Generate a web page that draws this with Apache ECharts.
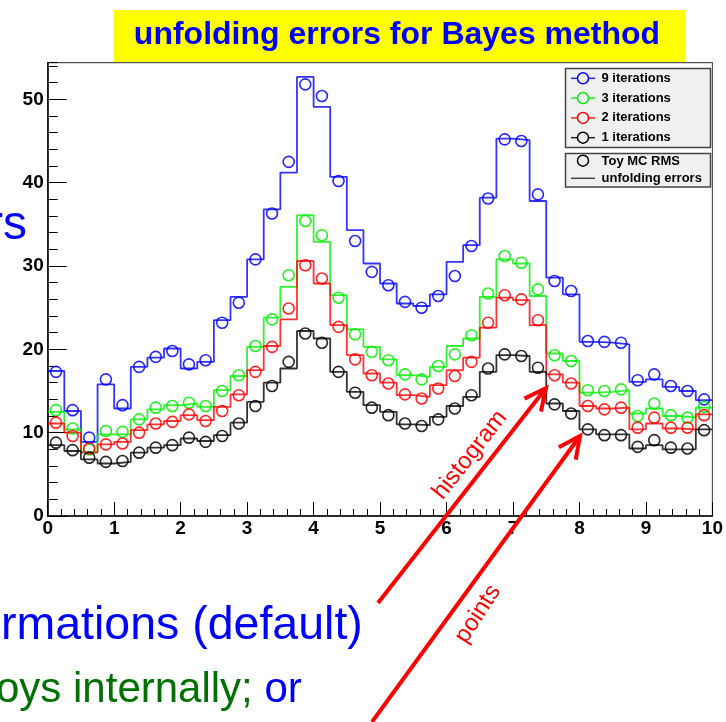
<!DOCTYPE html>
<html>
<head>
<meta charset="utf-8">
<title>unfolding errors for Bayes method</title>
<script src="https://cdn.jsdelivr.net/npm/echarts@6/dist/echarts.min.js"></script>
<style>
  html, body { margin: 0; padding: 0; background: #ffffff; }
  #chart { width: 726px; height: 722px; }
</style>
</head>
<body>
<div id="chart"></div>
<script>
// Histogram binning: 40 bins over [0, 10]
const xMin = 0;
const xMax = 10;
const nBins = 40;

const seriesNames = ['9 iterations', '3 iterations', '2 iterations', '1 iterations'];
const seriesColors = ['#0000ff', '#00ee00', '#ff0000', '#000000'];

// Unfolding errors (histogram contents), one array per iteration count
const errors9 = [17.4, 12.6, 8.9, 15.8, 12.9, 17.9, 19.0, 20.1, 17.7, 18.5,
                 23.5, 26.3, 30.8, 36.8, 41.2, 52.7, 49.1, 40.7, 34.3, 30.3,
                 27.9, 25.5, 25.2, 26.6, 30.5, 32.5, 38.2, 45.3, 45.1, 37.8,
                 28.6, 26.6, 20.9, 20.8, 20.6, 16.1, 16.4, 15.5, 15.0, 13.9];
const errors3 = [12.5, 10.4, 7.7, 9.8, 9.8, 11.6, 12.8, 13.3, 13.5, 13.1,
                 15.1, 16.8, 20.3, 23.8, 27.5, 36.1, 32.9, 26.5, 22.4, 20.3,
                 18.8, 16.9, 16.7, 17.9, 20.4, 21.3, 26.3, 30.8, 30.3, 26.4,
                 19.5, 18.6, 14.8, 14.9, 15.1, 12.3, 12.9, 12.0, 11.8, 13.0];
const errors2 = [11.1, 10.0, 7.6, 8.6, 8.9, 10.3, 11.0, 11.4, 12.1, 11.5,
                 13.1, 14.6, 17.5, 20.4, 23.6, 30.6, 27.9, 22.9, 19.3, 17.1,
                 16.0, 14.5, 14.3, 15.7, 17.5, 19.0, 22.6, 26.2, 25.9, 22.9,
                 17.0, 16.0, 13.2, 12.9, 13.0, 10.4, 11.1, 10.5, 10.4, 12.2];
const errors1 = [8.5, 7.8, 6.8, 6.3, 6.5, 7.6, 8.2, 8.5, 9.3, 9.0,
                 9.7, 11.2, 13.7, 16.0, 17.7, 22.2, 21.3, 17.3, 14.9, 13.3,
                 12.5, 11.0, 10.9, 11.9, 13.2, 14.3, 17.3, 19.3, 19.2, 17.3,
                 13.5, 12.6, 10.4, 9.8, 9.8, 8.1, 8.5, 8.0, 8.0, 10.4];

// Toy MC RMS (points), one array per iteration count
const toyRms9 = [17.3, 12.7, 9.4, 16.4, 13.3, 17.9, 19.1, 19.8, 18.2, 18.7,
                 23.2, 25.6, 30.8, 36.3, 42.5, 51.8, 50.4, 40.2, 33.0, 29.3,
                 27.7, 25.7, 25.0, 26.4, 28.8, 32.4, 38.1, 45.2, 45.0, 38.6,
                 28.2, 27.0, 21.0, 20.9, 20.8, 16.3, 17.0, 15.6, 15.0, 14.0];
const toyRms3 = [12.7, 10.5, 8.0, 10.2, 10.1, 11.6, 13.0, 13.2, 13.6, 13.2,
                 15.0, 16.9, 20.4, 23.6, 28.9, 35.4, 33.7, 26.2, 21.8, 19.7,
                 18.7, 17.0, 16.4, 18.0, 19.4, 21.7, 26.7, 31.2, 30.4, 27.2,
                 19.3, 18.6, 15.1, 15.0, 15.2, 12.0, 13.5, 12.1, 11.8, 13.1];
const toyRms2 = [11.2, 9.6, 8.1, 8.6, 8.7, 10.0, 11.1, 11.3, 12.2, 11.4,
                 12.6, 14.5, 17.3, 20.3, 24.9, 30.1, 28.5, 22.7, 18.8, 16.9,
                 15.9, 14.6, 14.1, 15.3, 16.8, 18.5, 23.2, 26.5, 26.0, 23.5,
                 16.9, 15.9, 13.2, 12.8, 13.0, 10.6, 11.8, 10.6, 10.6, 12.1];
const toyRms1 = [8.8, 7.9, 7.0, 6.5, 6.6, 7.6, 8.2, 8.5, 9.4, 8.9,
                 9.6, 11.1, 13.2, 15.6, 18.5, 21.9, 20.8, 17.3, 14.8, 13.0,
                 12.1, 11.1, 10.8, 11.6, 12.9, 14.5, 17.7, 19.4, 19.2, 17.8,
                 13.4, 12.3, 10.4, 9.7, 9.7, 8.3, 9.1, 8.2, 8.1, 10.3];

const errorSets = [errors9, errors3, errors2, errors1];
const toySets = [toyRms9, toyRms3, toyRms2, toyRms1];

// Axis ranges and ticks
const yMin = 0;
const yMax = 54.4;
const yMajor = 10;
const yMinor = 2;
const xMajor = 1;

const binWidth = (xMax - xMin) / nBins;

// Step outline: one vertex per bin low edge plus the closing upper edge
function histData(vals) {
  const d = vals.map((v, i) => [xMin + i * binWidth, v]);
  d.push([xMax, vals[vals.length - 1]]);
  return d;
}
// Markers at the bin centres
function pointData(vals) {
  return vals.map((v, i) => [xMin + (i + 0.5) * binWidth, v]);
}

const FONT = '"Liberation Sans", Arial, Helvetica, sans-serif';
const chart = echarts.init(document.getElementById('chart'), null, { renderer: 'canvas' });

// Width of a string in a given CSS font
const measureCtx = document.createElement('canvas').getContext('2d');
function textWidth(str, font) {
  measureCtx.font = font;
  return measureCtx.measureText(str).width;
}

const grid = { left: 47.7, right: 10.3, top: 62.7, bottom: 206, containLabel: false,
               show: true, borderColor: '#555', borderWidth: 1.2, backgroundColor: 'transparent' };

const series = [];
errorSets.forEach((vals, k) => {
  series.push({
    name: seriesNames[k], type: 'line', step: 'end', data: histData(vals),
    showSymbol: false, symbol: 'none', silent: true, z: 3,
    lineStyle: { color: seriesColors[k], width: 1.8, opacity: 0.8 }
  });
});
toySets.forEach((vals, k) => {
  series.push({
    name: seriesNames[k], type: 'scatter', data: pointData(vals),
    symbol: 'circle', symbolSize: 11, silent: true, z: 4,
    itemStyle: { color: 'rgba(255,255,255,0)', borderColor: seriesColors[k], borderWidth: 1.6, opacity: 0.85 }
  });
});

// Legend boxes drawn as graphic elements
const legendX = 565.5, legendW = 145;
const graphics = [];
graphics.push({ type: 'rect', shape: { x: legendX, y: 68.5, width: legendW, height: 79 },
  style: { fill: '#f0f0f0', stroke: '#444', lineWidth: 1.5 }, z: 10 });
seriesNames.forEach((name, k) => {
  const y = 78.3 + k * 19.8;
  graphics.push({ type: 'line', shape: { x1: 571, y1: y, x2: 595, y2: y },
    style: { stroke: seriesColors[k], lineWidth: 1.5, opacity: 0.85 }, z: 11 });
  graphics.push({ type: 'circle', shape: { cx: 583, cy: y, r: 5.5 },
    style: { fill: '#f0f0f0', stroke: seriesColors[k], lineWidth: 1.5 }, z: 12 });
  graphics.push({ type: 'text', x: 601.5, y: y,
    style: { text: name, fill: '#000', font: 'bold 13px ' + FONT, textAlign: 'left', textVerticalAlign: 'middle' }, z: 12 });
});
graphics.push({ type: 'rect', shape: { x: legendX, y: 153.5, width: legendW, height: 33.5 },
  style: { fill: '#f0f0f0', stroke: '#444', lineWidth: 1.5 }, z: 10 });
graphics.push({ type: 'circle', shape: { cx: 583, cy: 160.7, r: 5.5 },
  style: { fill: '#f0f0f0', stroke: '#000', lineWidth: 1.5 }, z: 12 });
graphics.push({ type: 'text', x: 601.5, y: 161,
  style: { text: 'Toy MC RMS', fill: '#000', font: 'bold 13px ' + FONT, textAlign: 'left', textVerticalAlign: 'middle' }, z: 12 });
graphics.push({ type: 'line', shape: { x1: 571, y1: 178.3, x2: 595, y2: 178.3 },
  style: { stroke: '#444', lineWidth: 1.5 }, z: 11 });
graphics.push({ type: 'text', x: 601.5, y: 178.5,
  style: { text: 'unfolding errors', fill: '#000', font: 'bold 13px ' + FONT, textAlign: 'left', textVerticalAlign: 'middle' }, z: 12 });

// Title banner
graphics.push({ type: 'rect', shape: { x: 114, y: 10, width: 571, height: 52 },
  style: { fill: '#ffff00' }, z: 1 });
graphics.push({ type: 'text', x: 397, y: 35,
  style: { text: 'unfolding errors for Bayes method', fill: '#0000ff', font: 'bold 32px ' + FONT,
           textAlign: 'center', textVerticalAlign: 'middle' }, z: 2 });

// Surrounding slide text
const bigFont = '46.5px ' + FONT;
const subFont = '42px ' + FONT;
graphics.push({ type: 'text', x: 27, y: 226,
  style: { text: 'rs', fill: '#0000ff', font: '48px ' + FONT, textAlign: 'right', textVerticalAlign: 'middle' }, z: 2 });
graphics.push({ type: 'text', x: 1, y: 626,
  style: { text: 'rmations (default)', fill: '#0000ff', font: bigFont, textAlign: 'left', textVerticalAlign: 'middle' }, z: 2 });
const line2a = 'oys internally;';
const line2b = ' or';
const line2x = -4;
graphics.push({ type: 'text', x: line2x, y: 690,
  style: { text: line2a, fill: '#007000', font: subFont, textAlign: 'left', textVerticalAlign: 'middle' }, z: 2 });
graphics.push({ type: 'text', x: line2x + textWidth(line2a, subFont), y: 690,
  style: { text: line2b, fill: '#0000ff', font: subFont, textAlign: 'left', textVerticalAlign: 'middle' }, z: 2 });

// Red annotation arrows
function arrow(x1, y1, x2, y2) {
  const ang = Math.atan2(y1 - y2, x1 - x2);
  const len = 24, spread = 0.45;
  const a = [x2 + len * Math.cos(ang + spread), y2 + len * Math.sin(ang + spread)];
  const b = [x2 + len * Math.cos(ang - spread), y2 + len * Math.sin(ang - spread)];
  graphics.push({ type: 'line', shape: { x1, y1, x2, y2 }, style: { stroke: '#ff0000', lineWidth: 4 }, z: 20 });
  graphics.push({ type: 'polyline', shape: { points: [a, [x2, y2], b] },
    style: { stroke: '#ff0000', lineWidth: 4, fill: null, lineJoin: 'miter' }, z: 20 });
}
arrow(378, 603, 546, 388);
arrow(372, 722, 580, 436);
graphics.push({ type: 'text', x: 470, y: 455, rotation: 52 * Math.PI / 180,
  style: { text: 'histogram', fill: '#ff0000', font: '24px ' + FONT, textAlign: 'center', textVerticalAlign: 'middle' }, z: 20 });
graphics.push({ type: 'text', x: 478, y: 614, rotation: 57 * Math.PI / 180,
  style: { text: 'points', fill: '#ff0000', font: '24px ' + FONT, textAlign: 'center', textVerticalAlign: 'middle' }, z: 20 });

const labelStyle = { color: '#000', fontFamily: FONT, fontWeight: 'bold', fontSize: 19 };

chart.setOption({
  animation: false,
  backgroundColor: '#ffffff',
  grid: grid,
  xAxis: {
    type: 'value', min: xMin, max: xMax, interval: xMajor,
    axisLine: { show: true, lineStyle: { color: '#000', width: 1.5 } },
    axisTick: { show: true, inside: true, length: 14, lineStyle: { color: '#000', width: 1 } },
    minorTick: { show: true, splitNumber: 5, length: 7, lineStyle: { color: '#000', width: 1 } },
    splitLine: { show: false },
    axisLabel: Object.assign({ margin: 3 }, labelStyle)
  },
  yAxis: [{
    type: 'value', min: yMin, max: yMax, interval: yMajor,
    axisLine: { show: true, onZero: false, lineStyle: { color: '#000', width: 1.5 } },
    axisTick: { show: true, inside: true, length: 19, lineStyle: { color: '#000', width: 1 } },
    splitLine: { show: false },
    axisLabel: Object.assign({ margin: 4, showMaxLabel: false }, labelStyle)
  }, {
    type: 'value', min: yMin, max: yMax, interval: yMinor, position: 'left',
    axisLine: { show: false },
    axisTick: { show: true, inside: true, length: 10, lineStyle: { color: '#000', width: 1 } },
    splitLine: { show: false },
    axisLabel: { show: false }
  }],
  series: series,
  graphic: graphics
});
</script>
</body>
</html>
